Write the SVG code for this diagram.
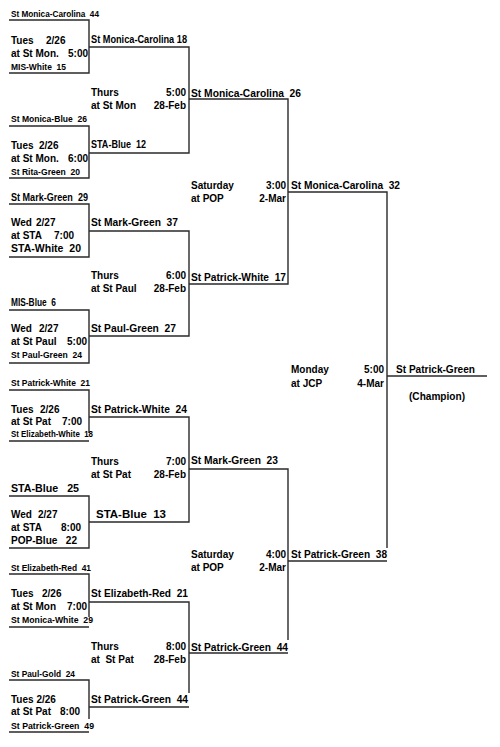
<svg xmlns="http://www.w3.org/2000/svg" width="500" height="747" viewBox="0 0 500 747">
<style>
text { font-family: "Liberation Sans", Arial, sans-serif; font-weight: bold; fill: #000; white-space: pre; }
.s { font-size: 8.5px; }
.m { font-size: 10px; }
.e { text-anchor: end; }
.c { text-anchor: middle; }
.ln { stroke: #2a2a2a; stroke-width: 1.4; fill: none; }
</style>
<rect width="500" height="747" fill="#fff"/>
<g id="connectors">
  <path class="ln" d="M9 20H89V73H9M9 126H89V178H9M9 204H89V257H9M9 310H89V363H9"/>
  <path class="ln" d="M9 390H89V433M9 441H89M9 496H89V548H9M9 574H89V617M9 627H89M9 680H89V719M9 732H89"/>
  <path class="ln" d="M89 47H189V153H89M89 231H189V336H89M89 417H189V522H89M89 602H189V693M89 707H189"/>
  <path class="ln" d="M189 99H288V284H189M189 469H288V640M189 653H288"/>
  <path class="ln" d="M288 192H387V548M288 561H387"/>
  <path class="ln" d="M387 376H487"/>
</g>
<g id="r1g1">
  <text class="s" x="11" y="17" textLength="88" lengthAdjust="spacingAndGlyphs">St Monica-Carolina  44</text>
  <text class="m" x="11" y="44">Tues</text><text class="m" x="46" y="44">2/26</text>
  <text class="m" x="11" y="57">at St Mon.</text><text class="m e" x="88" y="57">5:00</text>
  <text class="s" x="11" y="70" textLength="55" lengthAdjust="spacingAndGlyphs">MIS-White  15</text>
</g>
<g id="r1g2">
  <text class="s" x="11" y="122" textLength="76" lengthAdjust="spacingAndGlyphs">St Monica-Blue  26</text>
  <text class="m" x="11" y="149">Tues</text><text class="m" x="39" y="149">2/26</text>
  <text class="m" x="11" y="162">at St Mon.</text><text class="m e" x="88" y="162">6:00</text>
  <text class="s" x="11" y="175" textLength="69" lengthAdjust="spacingAndGlyphs">St Rita-Green  20</text>
</g>
<g id="r1g3">
  <text class="m" x="11" y="201" textLength="77" lengthAdjust="spacingAndGlyphs">St Mark-Green  29</text>
  <text class="m" x="11" y="226">Wed</text><text class="m" x="36" y="226">2/27</text>
  <text class="m" x="11" y="239">at STA</text><text class="m e" x="74" y="239">7:00</text>
  <text class="m" x="11" y="252" textLength="70" lengthAdjust="spacingAndGlyphs">STA-White  20</text>
</g>
<g id="r1g4">
  <text class="m" x="11" y="306" textLength="45" lengthAdjust="spacingAndGlyphs">MIS-Blue  6</text>
  <text class="m" x="11" y="332">Wed</text><text class="m" x="39" y="332">2/27</text>
  <text class="m" x="11" y="345">at St Paul</text><text class="m e" x="87" y="345">5:00</text>
  <text class="s" x="11" y="358" textLength="71" lengthAdjust="spacingAndGlyphs">St Paul-Green  24</text>
</g>
<g id="r1g5">
  <text class="s" x="11" y="386" textLength="79" lengthAdjust="spacingAndGlyphs">St Patrick-White  21</text>
  <text class="m" x="11" y="413">Tues</text><text class="m" x="40" y="413">2/26</text>
  <text class="m" x="11" y="425">at St Pat</text><text class="m e" x="82" y="425">7:00</text>
  <text class="s" x="11" y="437" textLength="82" lengthAdjust="spacingAndGlyphs">St Elizabeth-White  18</text>
</g>
<g id="r1g6">
  <text class="m" x="11" y="492" textLength="68" lengthAdjust="spacingAndGlyphs">STA-Blue   25</text>
  <text class="m" x="11" y="518">Wed</text><text class="m" x="38" y="518">2/27</text>
  <text class="m" x="11" y="531">at STA</text><text class="m e" x="81" y="531">8:00</text>
  <text class="m" x="11" y="544" textLength="66" lengthAdjust="spacingAndGlyphs">POP-Blue   22</text>
</g>
<g id="r1g7">
  <text class="s" x="11" y="571" textLength="80" lengthAdjust="spacingAndGlyphs">St Elizabeth-Red  41</text>
  <text class="m" x="11" y="597">Tues</text><text class="m" x="42" y="597">2/26</text>
  <text class="m" x="11" y="610">at St Mon</text><text class="m e" x="87" y="610">7:00</text>
  <text class="s" x="11" y="623" textLength="82" lengthAdjust="spacingAndGlyphs">St Monica-White  29</text>
</g>
<g id="r1g8">
  <text class="s" x="11" y="677" textLength="64" lengthAdjust="spacingAndGlyphs">St Paul-Gold  24</text>
  <text class="m" x="11" y="703">Tues 2/26</text>
  <text class="m" x="11" y="715">at St Pat</text><text class="m e" x="80" y="715">8:00</text>
  <text class="s" x="11" y="729" textLength="83" lengthAdjust="spacingAndGlyphs">St Patrick-Green  49</text>
</g>
<g id="r2g1">
  <text class="m" x="91" y="43" textLength="96" lengthAdjust="spacingAndGlyphs">St Monica-Carolina 18</text>
  <text class="m" x="91" y="96">Thurs</text><text class="m e" x="186" y="96">5:00</text>
  <text class="m" x="91" y="109">at St Mon</text><text class="m e" x="186" y="109">28-Feb</text>
  <text class="m" x="91" y="148" textLength="55" lengthAdjust="spacingAndGlyphs">STA-Blue  12</text>
</g>
<g id="r2g2">
  <text class="m" x="91" y="226" textLength="87" lengthAdjust="spacingAndGlyphs">St Mark-Green  37</text>
  <text class="m" x="91" y="279">Thurs</text><text class="m e" x="186" y="279">6:00</text>
  <text class="m" x="91" y="292">at St Paul</text><text class="m e" x="186" y="292">28-Feb</text>
  <text class="m" x="91" y="332" textLength="85" lengthAdjust="spacingAndGlyphs">St Paul-Green  27</text>
</g>
<g id="r2g3">
  <text class="m" x="91" y="413" textLength="96" lengthAdjust="spacingAndGlyphs">St Patrick-White  24</text>
  <text class="m" x="91" y="465">Thurs</text><text class="m e" x="186" y="465">7:00</text>
  <text class="m" x="91" y="478">at St Pat</text><text class="m e" x="186" y="478">28-Feb</text>
  <text class="m" x="96" y="518" textLength="70" lengthAdjust="spacingAndGlyphs">STA-Blue  13</text>
</g>
<g id="r2g4">
  <text class="m" x="91" y="597" textLength="97" lengthAdjust="spacingAndGlyphs">St Elizabeth-Red  21</text>
  <text class="m" x="91" y="650">Thurs</text><text class="m e" x="186" y="650">8:00</text>
  <text class="m" x="91" y="663">at  St Pat</text><text class="m e" x="186" y="663">28-Feb</text>
  <text class="m" x="91" y="703" textLength="97" lengthAdjust="spacingAndGlyphs">St Patrick-Green  44</text>
</g>
<g id="r3g1">
  <text class="m" x="191" y="97" textLength="110" lengthAdjust="spacingAndGlyphs">St Monica-Carolina  26</text>
  <text class="m" x="191" y="189">Saturday</text><text class="m e" x="286" y="189">3:00</text>
  <text class="m" x="191" y="202">at POP</text><text class="m e" x="286" y="202">2-Mar</text>
  <text class="m" x="191" y="281" textLength="95" lengthAdjust="spacingAndGlyphs">St Patrick-White  17</text>
</g>
<g id="r3g2">
  <text class="m" x="191" y="464" textLength="87" lengthAdjust="spacingAndGlyphs">St Mark-Green  23</text>
  <text class="m" x="191" y="558">Saturday</text><text class="m e" x="286" y="558">4:00</text>
  <text class="m" x="191" y="571">at POP</text><text class="m e" x="286" y="571">2-Mar</text>
  <text class="m" x="191" y="651" textLength="97" lengthAdjust="spacingAndGlyphs">St Patrick-Green  44</text>
</g>
<g id="final">
  <text class="m" x="291" y="189" textLength="109" lengthAdjust="spacingAndGlyphs">St Monica-Carolina  32</text>
  <text class="m" x="291" y="373">Monday</text><text class="m e" x="384" y="373">5:00</text>
  <text class="m" x="291" y="387">at JCP</text><text class="m e" x="384" y="387">4-Mar</text>
  <text class="m" x="291" y="558" textLength="96" lengthAdjust="spacingAndGlyphs">St Patrick-Green  38</text>
</g>
<g id="champion">
  <text class="m" x="396" y="373" textLength="79" lengthAdjust="spacingAndGlyphs">St Patrick-Green</text>
  <text class="m" x="409" y="400" textLength="56" lengthAdjust="spacingAndGlyphs">(Champion)</text>
</g>
</svg>
